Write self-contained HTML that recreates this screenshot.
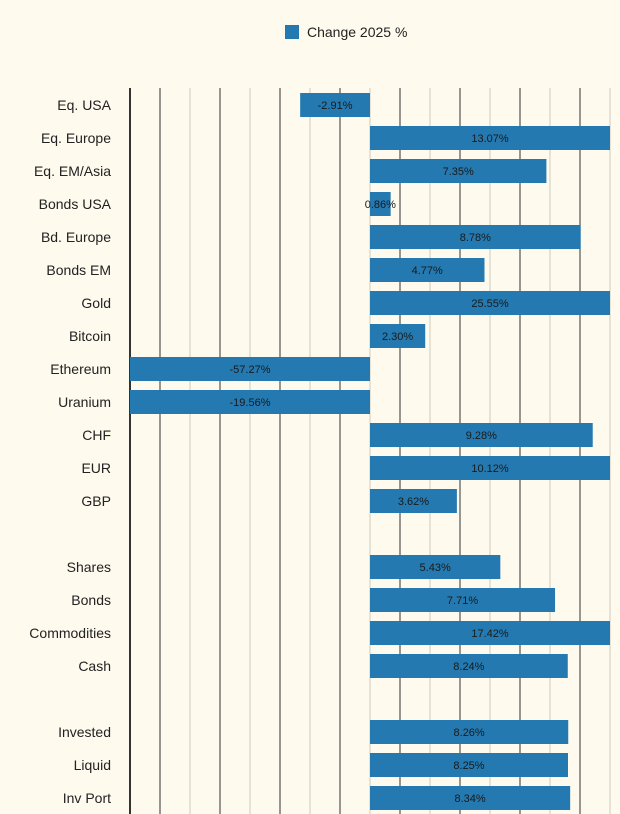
<!DOCTYPE html>
<html><head><meta charset="utf-8"><style>
body{margin:0;background:#fefaee;font-family:"Liberation Sans",sans-serif}
</style></head><body>
<svg width="620" height="814" id="chart" style="display:block">
<rect width="620" height="814" fill="#fefaee"/>
<g>
<rect x="285" y="25" width="14" height="14" fill="#2479b0"/>
<text x="307" y="37" font-size="14" fill="#222">Change 2025 %</text>
</g>
<g id="grid"></g><g id="bars"></g><g id="labels"></g>
</svg>
<script>
const categories=["Eq. USA","Eq. Europe","Eq. EM/Asia","Bonds USA","Bd.  Europe","Bonds EM","Gold","Bitcoin","Ethereum","Uranium","CHF","EUR","GBP","","Shares","Bonds","Commodities","Cash","","Invested","Liquid","Inv Port"];
const values=[-2.91,13.07,7.35,0.86,8.78,4.77,25.55,2.30,-57.27,-19.56,9.28,10.12,3.62,null,5.43,7.71,17.42,8.24,null,8.26,8.25,8.34];
const valueLabels=["-2.91%","13.07%","7.35%","0.86%","8.78%","4.77%","25.55%","2.30%","-57.27%","-19.56%","9.28%","10.12%","3.62%","","5.43%","7.71%","17.42%","8.24%","","8.26%","8.25%","8.34%"];
const xMin=-10,xMax=10,L=130,R=610,top0=105,step=33,bh=24;
const x=v=>L+(Math.max(xMin,Math.min(xMax,v))-xMin)/(xMax-xMin)*(R-L);
const y=i=>top0+i*step;
const NS="http://www.w3.org/2000/svg";
const g=document.getElementById('grid'),b=document.getElementById('bars'),lb=document.getElementById('labels');
for(let k=0;k<=16;k++){
 const gx=L+k*30;
 const ln=document.createElementNS(NS,'line');
 ln.setAttribute('x1',gx);ln.setAttribute('x2',gx);ln.setAttribute('y1',88);ln.setAttribute('y2',814);
 ln.setAttribute('stroke',k===0?'#333':(k%2?'#333':'#cfcabd'));
 ln.setAttribute('stroke-width',k===0?2:1);
 
 
 g.appendChild(ln);
}
categories.forEach((c,i)=>{
 const cy=y(i);
 if(c){
  const t=document.createElementNS(NS,'text');
  t.setAttribute('x',111);t.setAttribute('y',cy+5);t.setAttribute('text-anchor','end');
  t.setAttribute('font-size','14');t.setAttribute('fill','#222');t.setAttribute('xml:space','preserve');
  t.textContent=c;
  
  
  lb.appendChild(t);
 }
 const v=values[i]; if(v===null) return;
 const x0=x(0),x1=x(v),a=Math.min(x0,x1),w=Math.abs(x1-x0);
 const r=document.createElementNS(NS,'rect');
 r.setAttribute('x',a);r.setAttribute('y',cy-bh/2);r.setAttribute('width',w);r.setAttribute('height',bh);r.setAttribute('fill','#2479b0');
 
 
 b.appendChild(r);
 const t=document.createElementNS(NS,'text');
 t.setAttribute('x',a+w/2);t.setAttribute('y',cy+4);t.setAttribute('text-anchor','middle');
 t.setAttribute('font-size','11');t.setAttribute('fill','#1a1a1a');
 t.textContent=valueLabels[i];
 
 
 b.appendChild(t);
});
</script>
</body></html>
